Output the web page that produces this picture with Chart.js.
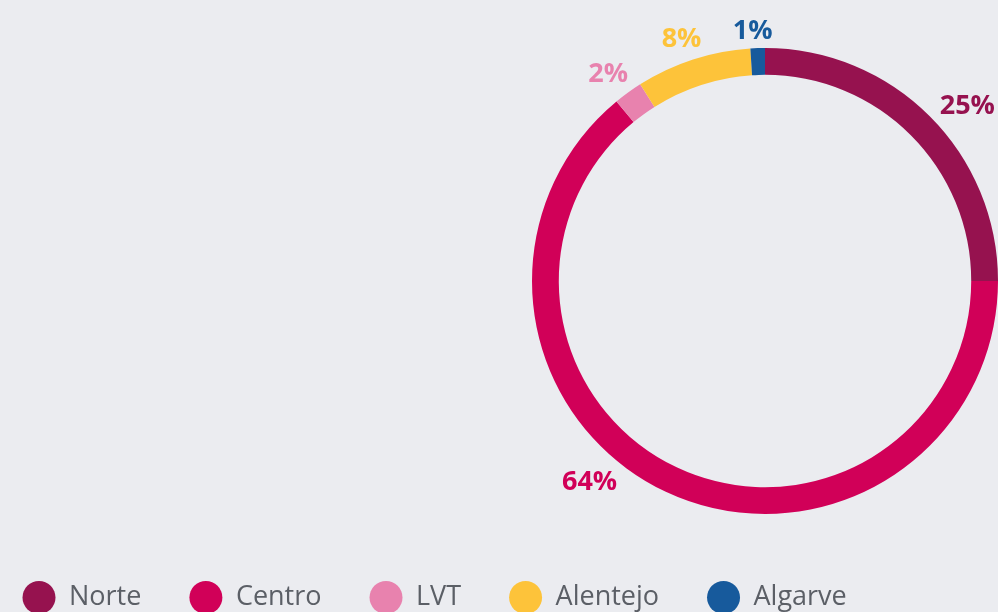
<!DOCTYPE html>
<html>
<head>
<meta charset="utf-8">
<script src="https://cdn.jsdelivr.net/npm/chart.js@4.4.1/dist/chart.umd.min.js"></script>
<style>
    html, body { margin: 0; padding: 0; background: #ebecf0; overflow: hidden; }
    #wrap { width: 998px; height: 612px; position: relative; }
</style>
</head>
<body>
<div id="wrap"><canvas id="regionChart"></canvas></div>
<script>
const regions = ['Norte', 'Centro', 'LVT', 'Alentejo', 'Algarve'];
const shares = [25, 64, 2, 8, 1];
const regionColors = ['#96124f', '#d10058', '#e882ae', '#fdc33a', '#175a9c'];
// small angle shifts (degrees) for the outside percentage labels
const labelNudge = [4, 16, -1, -1, -1];

document.addEventListener('DOMContentLoaded', function() {
    const ctx = document.getElementById('regionChart').getContext('2d');

    // draws the % labels just outside each slice
    const outsideLabels = {
        id: 'outsideLabels',
        afterDatasetsDraw(chart) {
            const c = chart.ctx;
            const meta = chart.getDatasetMeta(0);
            c.save();
            c.font = 'bold 27px "Open Sans", sans-serif';
            c.textAlign = 'center';
            c.textBaseline = 'middle';
            meta.data.forEach((arc, i) => {
                const p = arc.getProps(['x', 'y', 'startAngle', 'endAngle', 'outerRadius'], true);
                const mid = (p.startAngle + p.endAngle) / 2 + labelNudge[i] * Math.PI / 180;
                const text = shares[i] + '%';
                const w = c.measureText(text).width;
                const h = 19;
                const dx = Math.cos(mid), dy = Math.sin(mid);
                const extent = (Math.abs(dx) * w + Math.abs(dy) * h) / 2;
                const dist = p.outerRadius + 8 + extent;
                c.fillStyle = regionColors[i];
                c.fillText(text, p.x + dx * dist, p.y + dy * dist + 1);
            });
            c.restore();
        }
    };

    new Chart(ctx, {
        type: 'doughnut',
        data: {
            labels: regions,
            datasets: [{
                data: shares,
                backgroundColor: regionColors,
                borderWidth: 0,
                hoverOffset: 0,
                offset: 0
            }]
        },
        options: {
            responsive: true,
            maintainAspectRatio: false,
            animation: false,
            cutout: '88.5%',
            layout: { padding: { left: -25.5, top: 26, right: 0, bottom: 0 } },
            plugins: {
                tooltip: { enabled: false },
                // empty title used only as a left spacer
                title: {
                    display: true,
                    position: 'left',
                    fullSize: false,
                    text: ' ',
                    color: 'transparent',
                    font: { size: 1, lineHeight: 1 },
                    padding: { top: 0, bottom: 556.5 }
                },
                legend: {
                    position: 'bottom',
                    align: 'start',
                    maxHeight: 76,
                    labels: {
                        usePointStyle: true,
                        pointStyle: 'circle',
                        pointStyleWidth: 33,
                        boxHeight: 23.3,
                        padding: 48,
                        color: '#5b5f66',
                        font: { family: '"Open Sans", sans-serif', size: 27 }
                    }
                }
            }
        },
        plugins: [outsideLabels]
    });
});
</script>
</body>
</html>
